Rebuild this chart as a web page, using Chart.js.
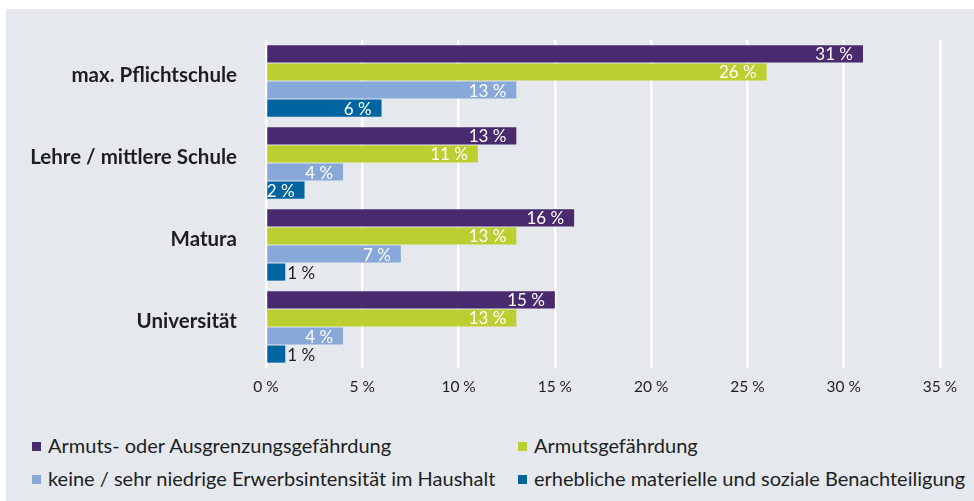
<!DOCTYPE html>
<html>
<head>
<meta charset="utf-8">
<script src="https://cdn.jsdelivr.net/npm/chart.js@4"></script>
<style>
    body { margin: 0; background: #fff; }
    #panel { position: absolute; left: 6px; top: 9px; width: 968px; height: 492px; background: #e5e9ee; }
    #chart-wrap { position: absolute; left: 0; top: 0; width: 968px; height: 391px; }
    .legend-item { position: absolute; font-family: Lato, sans-serif; font-size: 20px; color: #1e1e1e; white-space: nowrap; line-height: 22px; }
    .legend-item span { display: inline-block; width: 9px; height: 9px; margin-right: 7px; vertical-align: 2px; }
</style>
</head>
<body>
<div id="panel">
    <div id="chart-wrap"><canvas id="edu-chart"></canvas></div>
    <div id="legend"></div>
</div>
<script>
// Categories and series (values in %)
const categories = ['max. Pflichtschule', 'Lehre / mittlere Schule', 'Matura', 'Universität'];
const seriesNames = [
    'Armuts- oder Ausgrenzungsgefährdung',
    'Armutsgefährdung',
    'keine / sehr niedrige Erwerbsintensität im Haushalt',
    'erhebliche materielle und soziale Benachteiligung'
];
const ausgrenzung = [31, 13, 16, 15];
const armut = [26, 11, 13, 13];
const erwerb = [13, 4, 7, 4];
const benachteiligung = [6, 2, 1, 1];
const xTicks = [0, 5, 10, 15, 20, 25, 30, 35];

const colors = ['#4a2a6e', '#bccf30', '#87a8d8', '#0064a0'];

// Draw value labels at the end of each bar
const valueLabels = {
    id: 'valueLabels',
    afterDatasetsDraw(chart) {
        const ctx = chart.ctx;
        ctx.save();
        ctx.font = '17px Lato, sans-serif';
        ctx.textBaseline = 'middle';
        chart.data.datasets.forEach((ds, i) => {
            chart.getDatasetMeta(i).data.forEach((bar, j) => {
                const v = ds.data[j];
                const txt = v + ' %';
                if (v < 2) {
                    ctx.fillStyle = '#1e1e1e';
                    ctx.textAlign = 'left';
                    ctx.fillText(txt, bar.x + 2, bar.y + 1);
                } else {
                    ctx.fillStyle = '#ffffff';
                    ctx.textAlign = 'right';
                    ctx.fillText(txt, bar.x - 10, bar.y + 1);
                }
            });
        });
        ctx.restore();
    }
};

const datasetValues = [ausgrenzung, armut, erwerb, benachteiligung];

new Chart(document.getElementById('edu-chart'), {
    type: 'bar',
    data: {
        labels: categories,
        datasets: datasetValues.map((vals, i) => ({
            label: seriesNames[i],
            data: vals,
            backgroundColor: colors[i],
            categoryPercentage: 0.88,
            barPercentage: 0.95
        }))
    },
    options: {
        indexAxis: 'y',
        responsive: true,
        maintainAspectRatio: false,
        animation: false,
        layout: { padding: { top: 31, right: 34, left: 0, bottom: 0 } },
        plugins: {
            legend: { display: false },
            tooltip: { enabled: false }
        },
        scales: {
            x: {
                min: 0,
                max: 35,
                afterBuildTicks: axis => { axis.ticks = xTicks.map(v => ({ value: v })); },
                afterFit: axis => { axis.height = 32; },
                grid: { color: '#ffffff', lineWidth: 2.5, drawTicks: false },
                border: { display: false },
                ticks: {
                    padding: 10,
                    color: '#1e1e1e',
                    font: { family: 'Lato, sans-serif', size: 15.5 },
                    callback: v => v + ' %'
                }
            },
            y: {
                // fixed width; drop the label padding that Chart.js adds above and below
                afterFit: axis => {
                    axis.width = 260;
                    axis.paddingTop = 0;
                    axis.paddingBottom = 0;
                },
                grid: { display: false, drawTicks: false },
                border: { display: false },
                ticks: {
                    padding: 29,
                    labelOffset: -6,
                    color: '#1e1e1e',
                    font: { family: 'Lato, sans-serif', size: 20.5, weight: 'bold' }
                }
            }
        }
    },
    plugins: [valueLabels]
});

// HTML legend in two columns
const legendPos = [[26, 425], [512, 425], [26, 458], [512, 458]];
const legendEl = document.getElementById('legend');
seriesNames.forEach((name, i) => {
    const item = document.createElement('div');
    item.className = 'legend-item';
    item.style.left = legendPos[i][0] + 'px';
    item.style.top = legendPos[i][1] + 'px';
    item.innerHTML = `<span style="background:${colors[i]}"></span>${name}`;
    legendEl.appendChild(item);
});
</script>
</body>
</html>
